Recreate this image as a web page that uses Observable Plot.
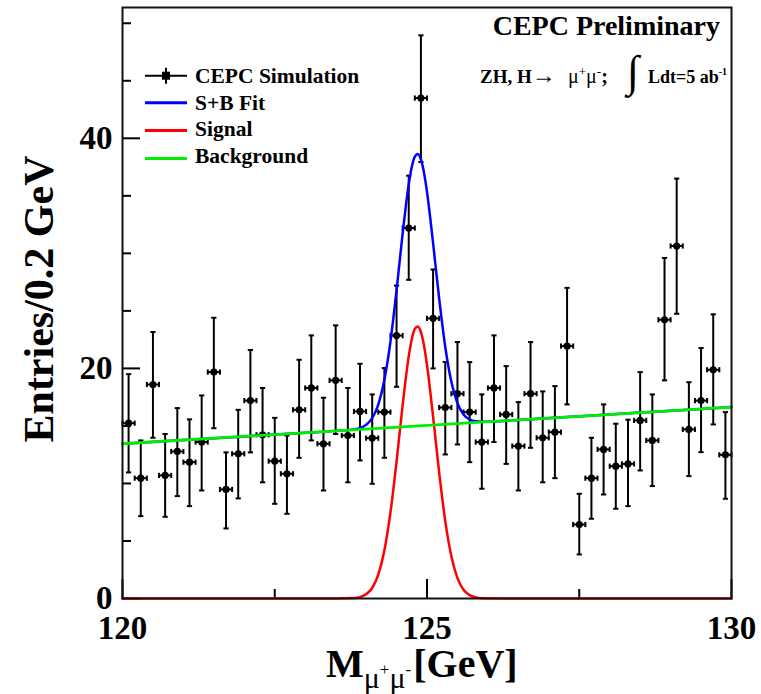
<!DOCTYPE html>
<html>
<head>
<meta charset="utf-8">
<script src="https://cdn.jsdelivr.net/npm/d3@7"></script>
<script src="https://cdn.jsdelivr.net/npm/@observablehq/plot@0.6"></script>
<style>
  body { margin: 0; background: #fff; }
  #chart { position: relative; width: 761px; height: 694px; }
</style>
</head>
<body>
<div id="chart"></div>
<script>
// Di-muon invariant mass, 0.2 GeV bins (bin centres)
const massBins = [
  120.1, 120.3, 120.5, 120.7, 120.9, 121.1, 121.3, 121.5, 121.7, 121.9,
  122.1, 122.3, 122.5, 122.7, 122.9, 123.1, 123.3, 123.5, 123.7, 123.9,
  124.1, 124.3, 124.5, 124.7, 124.9, 125.1, 125.3, 125.5, 125.7, 125.9,
  126.1, 126.3, 126.5, 126.7, 126.9, 127.1, 127.3, 127.5, 127.7, 127.9,
  128.1, 128.3, 128.5, 128.7, 128.9, 129.1, 129.3, 129.5, 129.7, 129.9
];
// Simulated entries per bin
const entries = [
  15.24, 10.46, 18.6, 10.7, 12.78, 11.85, 13.6, 19.68, 9.48, 12.58,
  17.2, 14.23, 11.94, 10.84, 16.4, 18.3, 13.45, 18.96, 14.17, 16.26,
  13.94, 16.2, 22.85, 32.2, 43.5, 24.35, 16.6, 17.8, 16.2, 13.6,
  18.3, 16.0, 13.25, 17.8, 13.97, 14.46, 21.94, 6.43, 10.46, 12.96,
  11.5, 11.7, 15.48, 13.74, 24.23, 30.64, 14.7, 17.2, 19.88, 12.49
];
// Lower and upper ends of the statistical error bars
const errLow = [
  10.96, 7.16, 13.97, 7.1, 8.9, 8.03, 9.39, 14.8, 6.09, 8.7,
  12.7, 10.1, 8.23, 7.36, 12.23, 13.74, 9.39, 14.3, 10.1, 12.0,
  9.97, 12.23, 18.4, 27.7, 37.94, 20.0, 12.52, 13.39, 11.85, 9.54,
  13.6, 11.7, 9.39, 13.1, 10.1, 10.46, 16.87, 3.83, 6.93, 9.04,
  7.8, 8.03, 11.13, 9.77, 18.96, 24.75, 10.64, 12.72, 15.13, 8.67
];
const errHigh = [
  19.5, 13.74, 23.16, 14.3, 16.55, 15.57, 17.65, 24.4, 12.7, 16.4,
  21.6, 18.3, 15.7, 14.17, 20.75, 22.87, 17.45, 23.74, 18.3, 20.4,
  17.74, 20.03, 27.2, 36.75, 48.95, 28.6, 20.55, 22.29, 20.55, 17.74,
  22.87, 20.2, 17.07, 22.29, 18.0, 18.46, 27.0, 9.1, 13.97, 16.87,
  15.19, 15.54, 19.68, 17.74, 29.6, 36.5, 18.8, 21.77, 24.7, 16.2
];

// Fit curves sampled along the mass axis
const fitMass = [
  120, 121, 122, 123, 123.5, 123.8, 123.9, 124.0, 124.1, 124.2,
  124.3, 124.4, 124.5, 124.6, 124.7, 124.75, 124.8, 124.85, 124.9, 124.95,
  125.0, 125.1, 125.2, 125.3, 125.4, 125.5, 125.6, 125.7, 125.8, 125.9,
  126.5, 127.5, 128.5, 129.5, 130
];
const fitSB = [
  13.45, 13.77, 14.09, 14.41, 14.57, 14.70, 14.81, 15.09, 15.67, 16.86,
  19.0, 22.33, 26.79, 31.72, 36.0, 37.5, 38.41, 38.63, 38.16, 37.04,
  35.35, 30.88, 26.06, 21.86, 18.84, 16.97, 16.0, 15.56, 15.4, 15.36,
  15.52, 15.84, 16.16, 16.48, 16.64
];
const fitSignal = [
  0, 0, 0, 0, 0, 0.04, 0.12, 0.36, 0.91, 2.07,
  4.18, 7.48, 11.9, 16.8, 21.05, 22.54, 23.43, 23.64, 23.15, 22.01,
  20.3, 15.8, 10.95, 6.72, 3.67, 1.77, 0.76, 0.29, 0.1, 0.03,
  0, 0, 0, 0, 0
];
const bkgMass = [120, 130];
const bkgValues = [13.45, 16.64];

// Axis ticks
const xMajorTicks = [120, 125, 130];
const xMinorTicks = [122.5, 127.5];
const yMajorTicks = [0, 20, 40];
const yMinorTicks = [5, 10, 15, 25, 30, 35, 45, 50];

const legendItems = [
  {label: "CEPC Simulation", color: "#000000", kind: "data"},
  {label: "S+B Fit", color: "#0000ff", kind: "line"},
  {label: "Signal", color: "#ff0000", kind: "line"},
  {label: "Background", color: "#00ee00", kind: "line"}
];

const points = massBins.map((m, i) => ({m, v: entries[i], lo: errLow[i], hi: errHigh[i]}));
const fit = fitMass.map((m, i) => ({m, sb: fitSB[i], sig: fitSignal[i]}));
const bkg = bkgMass.map((m, i) => ({m, v: bkgValues[i]}));
const halfBin = 0.1;

// short caps drawn as custom dot symbols (half-length = r)
const capH = {draw(ctx, size) { const r = Math.sqrt(size / Math.PI); ctx.moveTo(-r, 0); ctx.lineTo(r, 0); }};
const capV = {draw(ctx, size) { const r = Math.sqrt(size / Math.PI); ctx.moveTo(0, -r); ctx.lineTo(0, r); }};

const serif = "'Liberation Serif', 'Times New Roman', serif";
const ink = "#000";

const plot = Plot.plot({
  width: 761,
  height: 694,
  marginLeft: 122,
  marginRight: 30,
  marginTop: 7,
  marginBottom: 96,
  style: {fontFamily: serif, fontWeight: "bold", background: "#fff", color: ink, overflow: "visible"},
  x: {domain: [120, 130]},
  y: {domain: [0, 51.37]},
  marks: [
    // inward ticks
    Plot.axisX({ticks: xMajorTicks, tickSize: -19, tickFormat: () => "", strokeWidth: 2, label: null}),
    Plot.axisX({ticks: xMinorTicks, tickSize: -9, tickFormat: () => "", strokeWidth: 2, label: null}),
    Plot.axisX({ticks: xMajorTicks, tickSize: 0, tickPadding: 17, fontSize: 33, tickFormat: d => String(d), label: null}),
    Plot.axisY({ticks: yMajorTicks, tickSize: -18, tickFormat: () => "", strokeWidth: 2, label: null}),
    Plot.axisY({ticks: yMinorTicks, tickSize: -9, tickFormat: () => "", strokeWidth: 2, label: null}),
    Plot.axisY({ticks: yMajorTicks, tickSize: 0, tickPadding: 10, fontSize: 33, tickFormat: d => String(d), label: null}),

    // simulated data with error bars
    Plot.ruleX(points, {x: "m", y1: "lo", y2: "hi", stroke: ink, strokeWidth: 2}),
    Plot.dot(points, {x: "m", y: "hi", symbol: capH, r: 2.6, stroke: ink, fill: "none", strokeWidth: 2}),
    Plot.dot(points, {x: "m", y: "lo", symbol: capH, r: 2.6, stroke: ink, fill: "none", strokeWidth: 2}),
    Plot.ruleY(points, {y: "v", x1: d => d.m - halfBin, x2: d => d.m + halfBin, stroke: ink, strokeWidth: 2}),
    Plot.dot(points, {x: d => d.m - halfBin, y: "v", symbol: capV, r: 2.6, stroke: ink, fill: "none", strokeWidth: 2}),
    Plot.dot(points, {x: d => d.m + halfBin, y: "v", symbol: capV, r: 2.6, stroke: ink, fill: "none", strokeWidth: 2}),
    Plot.dot(points, {x: "m", y: "v", r: 3.6, fill: ink, stroke: null}),

    // fit components
    Plot.line(fit, {x: "m", y: "sb", stroke: "#0000ff", strokeWidth: 2.5, curve: "monotone-x"}),
    Plot.line(fit, {x: "m", y: "sig", stroke: "#ff0000", strokeWidth: 2.5, curve: "monotone-x"}),
    Plot.line(bkg, {x: "m", y: "v", stroke: "#00ee00", strokeWidth: 2.8}),

    Plot.frame({stroke: "#111", strokeWidth: 2})
  ]
});

document.getElementById("chart").appendChild(plot);

// annotations, legend and axis titles
const svg = d3.select(plot);
const g = svg.append("g").attr("font-family", serif).attr("fill", ink).attr("text-anchor", "start");

// experiment header
g.append("text").attr("x", 720).attr("y", 35).attr("text-anchor", "end")
  .attr("font-size", 28).attr("font-weight", "bold").text("CEPC Preliminary");

const proc = g.append("text").attr("x", 480).attr("y", 82.7).attr("font-size", 19).attr("font-weight", "bold");
proc.append("tspan").text("ZH, H");
proc.append("tspan").attr("font-size", 24).attr("font-weight", "normal").text("\u2192");
const mumu = g.append("text").attr("x", 568).attr("y", 82.7).attr("font-size", 20).attr("font-weight", "normal");
mumu.append("tspan").text("\u03bc");
mumu.append("tspan").attr("font-size", 13).attr("dy", -7).text("+");
mumu.append("tspan").attr("dy", 7).text("\u03bc");
mumu.append("tspan").attr("font-size", 13).attr("dy", -7).text("-");
mumu.append("tspan").attr("dy", 7).attr("font-weight", "bold").text(";");
g.append("text").attr("x", 627).attr("y", 86).attr("font-size", 44).attr("font-weight", "normal").text("\u222b");
const lumi = g.append("text").attr("x", 648).attr("y", 82.7).attr("font-size", 18).attr("font-weight", "bold");
lumi.append("tspan").text("Ldt=5 ab");
lumi.append("tspan").attr("font-size", 10).attr("dy", -8).text("-1");

// legend
const legendRows = [
  {line: 75.7, base: 82.7},
  {line: 102.7, base: 109.5},
  {line: 130.5, base: 136.3},
  {line: 158.5, base: 163.3}
];
legendItems.forEach((item, i) => {
  const row = legendRows[i];
  g.append("line").attr("x1", 145).attr("x2", 187).attr("y1", row.line).attr("y2", row.line)
    .attr("stroke", item.color).attr("stroke-width", item.kind === "data" ? 2 : 3);
  if (item.kind === "data") {
    g.append("line").attr("x1", 166).attr("x2", 166).attr("y1", row.line - 8).attr("y2", row.line + 8)
      .attr("stroke", ink).attr("stroke-width", 2);
    g.append("rect").attr("x", 162).attr("y", row.line - 4).attr("width", 8).attr("height", 8).attr("fill", ink);
  }
  g.append("text").attr("x", 195).attr("y", row.base).attr("font-size", 21.5).attr("font-weight", "bold")
    .text(item.label);
});

// y-axis title
g.append("text").attr("transform", "translate(53,299) rotate(-90)").attr("text-anchor", "middle")
  .attr("font-size", 42).attr("font-weight", "bold").text("Entries/0.2 GeV");

// x-axis title
const xt = g.append("text").attr("x", 326).attr("y", 677).attr("font-size", 40).attr("font-weight", "bold");
xt.append("tspan").text("M");
xt.append("tspan").attr("font-size", 30).attr("font-weight", "normal").attr("dy", 11).text("\u03bc");
xt.append("tspan").attr("font-size", 17).attr("font-weight", "normal").attr("dy", -13).text("+");
xt.append("tspan").attr("font-size", 30).attr("font-weight", "normal").attr("dy", 13).text("\u03bc");
xt.append("tspan").attr("font-size", 17).attr("font-weight", "normal").attr("dy", -13).text("-");
xt.append("tspan").attr("dx", 2).attr("dy", 2).text("[GeV]");
</script>
</body>
</html>
